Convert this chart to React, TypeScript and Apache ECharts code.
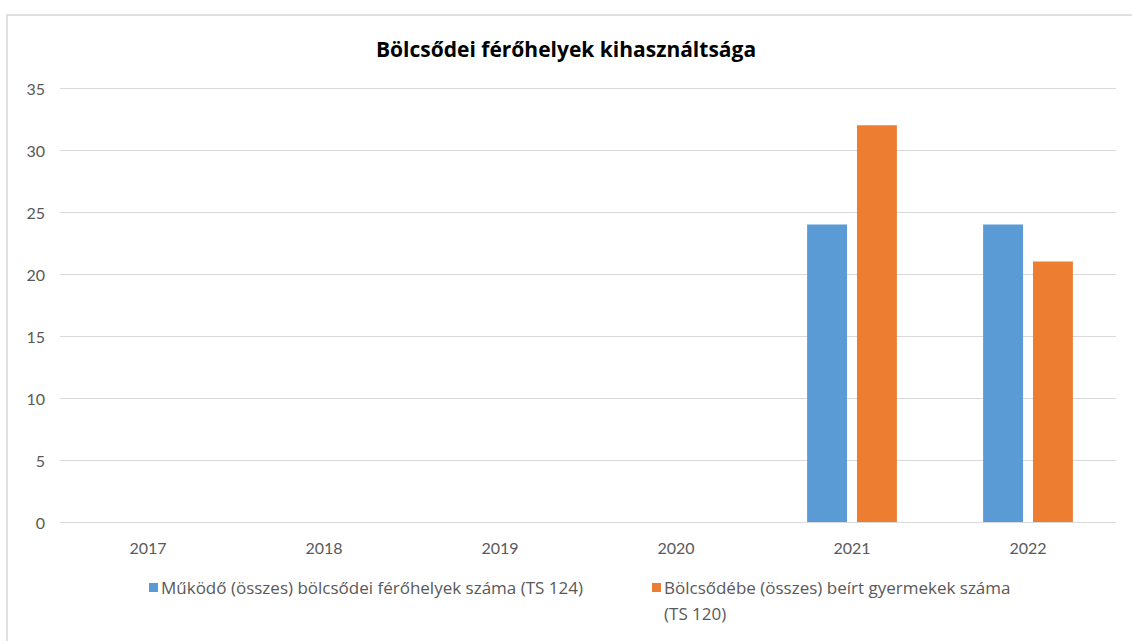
import React, { useEffect, useRef } from "react";
import * as echarts from "echarts";

const categories = ["2017", "2018", "2019", "2020", "2021", "2022"];
const seriesNames = [
  "Működő (összes) bölcsődei férőhelyek száma (TS 124)",
  "Bölcsődébe (összes) beírt gyermekek száma",
];
const legendSecondLine = "(TS 120)";
const placesValues: (number | null)[] = [null, null, null, null, 24, 24];
const childrenValues: (number | null)[] = [null, null, null, null, 32, 21];
const yTicks = { min: 0, max: 35, interval: 5 };
const titleText = "Bölcsődei férőhelyek kihasználtsága";

const FONT = "Lato, 'Noto Sans', sans-serif";
const LFONT = "'Open Sans', 'Noto Sans', sans-serif";

export default function App() {
  const ref = useRef<HTMLDivElement>(null);
  useEffect(() => {
    if (!ref.current) return;
    const chart = echarts.init(ref.current, undefined, { renderer: "svg" });
    chart.setOption({
      animation: false,
      backgroundColor: "#ffffff",
      title: {
        text: titleText,
        left: "center",
        top: 33,
        textStyle: { fontFamily: LFONT, fontSize: 21, fontWeight: "bold", color: "#000000" },
      },
      grid: { left: 60, right: 16, top: 88, bottom: 119, containLabel: false },
      xAxis: {
        type: "category",
        data: categories,
        axisLine: { lineStyle: { color: "#d9d9d9", width: 1 } },
        axisTick: { show: false },
        axisLabel: { color: "#595959", fontFamily: FONT, fontSize: 16, margin: 17 },
      },
      yAxis: {
        type: "value",
        min: yTicks.min,
        max: yTicks.max,
        interval: yTicks.interval,
        axisLine: { show: false },
        axisTick: { show: false },
        splitLine: { lineStyle: { color: "#d9d9d9", width: 1 } },
        axisLabel: { color: "#595959", fontFamily: FONT, fontSize: 16, margin: 15 },
      },
      legend: [
        {
          data: [seriesNames[0]],
          left: 149,
          top: 579,
          padding: 0,
          icon: "rect",
          itemWidth: 9,
          itemHeight: 9,
          itemGap: 4,
          textStyle: { color: "#595959", fontFamily: LFONT, fontSize: 17, padding: [0, 0, 0, -2] },
        },
        {
          data: [seriesNames[1]],
          left: 652,
          top: 579,
          padding: 0,
          icon: "rect",
          itemWidth: 9,
          itemHeight: 9,
          textStyle: { color: "#595959", fontFamily: LFONT, fontSize: 17, padding: [0, 0, 0, -2] },
        },
      ],
      graphic: [
        {
          type: "rect",
          shape: { x: 7, y: 15, width: 1200, height: 700 },
          style: { fill: "none", stroke: "#d6d6d6", lineWidth: 1.5 },
          silent: true,
        },
        {
          type: "text",
          left: 664,
          top: 605,
          style: { text: legendSecondLine, fill: "#595959", font: `17px ${LFONT}` },
        },
      ],
      series: [
        {
          name: seriesNames[0],
          type: "bar",
          data: placesValues,
          itemStyle: { color: "#5B9BD5" },
          barGap: "25%",
          barCategoryGap: "49%",
        },
        {
          name: seriesNames[1],
          type: "bar",
          data: childrenValues,
          itemStyle: { color: "#ED7D31" },
        },
      ],
    });
    return () => chart.dispose();
  }, []);
  return (
    <div
      ref={ref}
      style={{ position: "absolute", left: 0, top: 0, width: 1132, height: 641 }}
    />
  );
}
